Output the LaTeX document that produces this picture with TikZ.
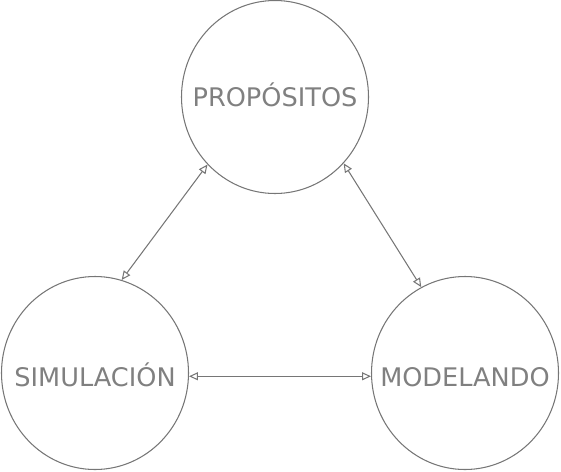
\documentclass[tikz,border=0pt]{standalone}
\usepackage{fontspec}
\setmainfont{DejaVu Sans}
\usetikzlibrary{arrows.meta,shapes.geometric}
\definecolor{txtgray}{RGB}{128,128,128}
\definecolor{lngray}{RGB}{118,118,118}
\tikzset{
  bubble/.style={ellipse, draw=lngray, line width=1.05pt, inner sep=0pt,
    minimum width=187pt, minimum height=193pt},
  lbl/.style={text=txtgray, font=\fontsize{25.6pt}{31pt}\selectfont, anchor=base, inner sep=0pt},
  link/.style={draw=lngray, line width=1.05pt,
    {Triangle[open,length=9pt,width=8pt]}-{Triangle[open,length=9pt,width=8pt]}}
}
\begin{document}
\begin{tikzpicture}[x=1pt,y=-1pt]
\useasboundingbox (0,0) rectangle (561,471);
\node[bubble] (p) at (275,97) {};
\node[bubble] (s) at (95,373) {};
\node[bubble] (m) at (465,373) {};
\node[lbl] (pt) at (275,106) {PROPÓSITOS};
\node[lbl] (st) at (95,386) {SIMULACIÓN};
\node[lbl] (mt) at (465,386) {MODELANDO};
\draw[link] (p.225) -- (s.74);
\draw[link] (p.-44) -- (m.117);
\draw[link] (s.-2) -- (m.182);
\end{tikzpicture}
\end{document}
